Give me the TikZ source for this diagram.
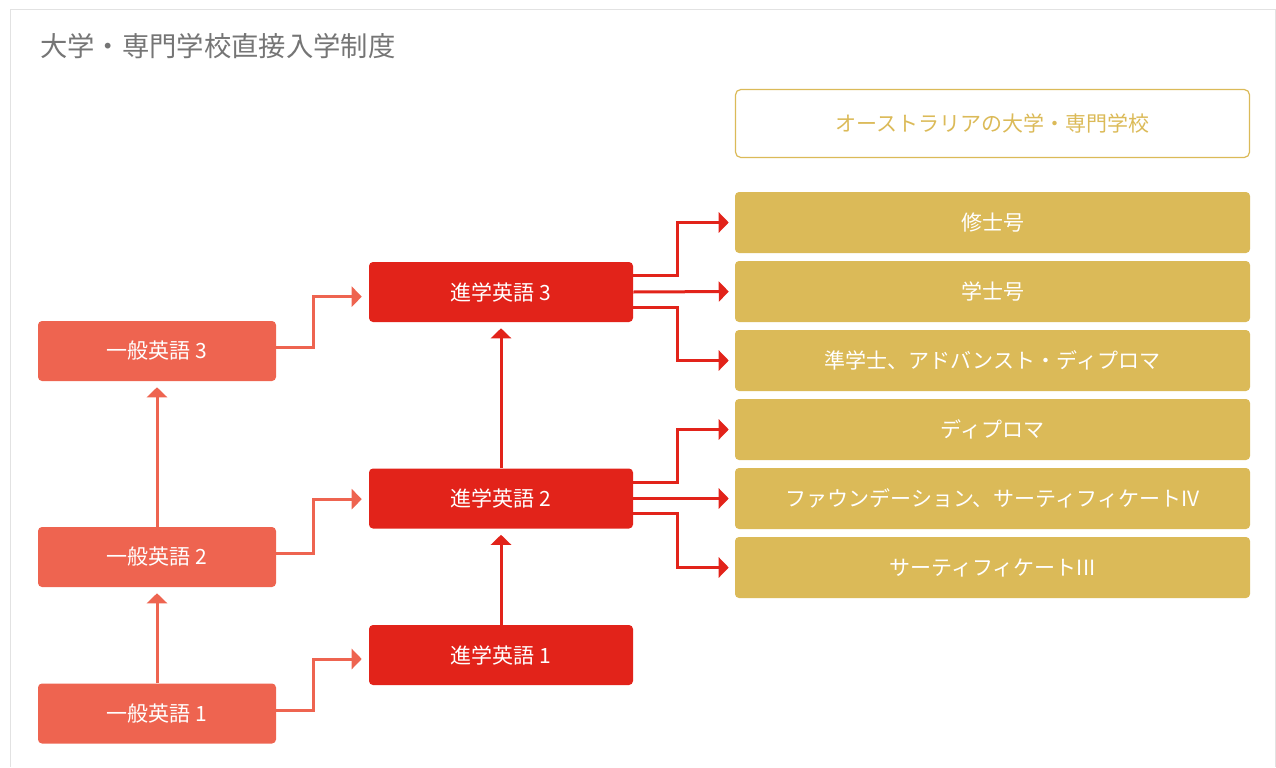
\documentclass[tikz,border=0pt]{standalone}
\usepackage{fontspec}
\setmainfont{Noto Sans CJK JP}
\usetikzlibrary{arrows.meta,positioning}
\definecolor{genred}{HTML}{EE6450}
\definecolor{advred}{HTML}{E2231A}
\definecolor{unigold}{HTML}{DBBA58}
\definecolor{titlegray}{HTML}{757575}
\definecolor{framegray}{HTML}{E2E2E2}
\begin{document}
\begin{tikzpicture}[x=0.75pt,y=-0.75pt,>={Triangle[length=7.5pt,width=15pt]},
		box/.style={rounded corners=3pt,text=white,font=\fontsize{15.75}{18}\selectfont,inner sep=0pt},
		gen/.style={box,fill=genred,minimum width=178.5pt,minimum height=45pt},
		adv/.style={box,fill=advred,minimum width=198pt,minimum height=45pt},
		uni/.style={box,fill=unigold,minimum width=386.25pt,minimum height=45.75pt},
		genline/.style={draw=genred,line width=2.25pt,->},
		advline/.style={draw=advred,line width=2.25pt,->}]
	\useasboundingbox (0,0) rectangle (1276,767);
	\draw[framegray,line width=0.75pt] (10,767)--(10,9.5)--(1275,9.5)--(1275,767);
	\node[anchor=west,inner sep=0pt,text=titlegray,font=\fontsize{20.5}{24}\selectfont] (title) at (40,46) {大学・専門学校直接入学制度};
	\node[draw=unigold,line width=0.9pt,rounded corners=4pt,minimum width=385.5pt,minimum height=51pt,inner sep=0pt,text=unigold,font=\fontsize{15.75}{18}\selectfont] (head) at (992.5,123.5) {オーストラリアの大学・専門学校};
	\node[uni] (u1) at (992.5,222.5) {修士号};
	\node[uni] (u2) at (992.5,291.5) {学士号};
	\node[uni] (u3) at (992.5,360.5) {準学士、アドバンスト・ディプロマ};
	\node[uni] (u4) at (992.5,429.5) {ディプロマ};
	\node[uni] (u5) at (992.5,498.5) {ファウンデーション、サーティフィケートIV};
	\node[uni] (u6) at (992.5,567.5) {サーティフィケートIII};
	\node[adv] (a3) at (501,292) {進学英語 3};
	\node[adv] (a2) at (501,498.5) {進学英語 2};
	\node[adv] (a1) at (501,655) {進学英語 1};
	\node[gen] (g3) at (157,351) {一般英語 3};
	\node[gen] (g2) at (157,557) {一般英語 2};
	\node[gen] (g1) at (157,713.5) {一般英語 1};
	\draw[genline,shorten >=4.5pt] (g1.north)--(g2.south);
	\draw[genline,shorten >=4.5pt] (g2.north)--(g3.south);
	\draw[advline,shorten >=4.5pt] (a1.north)--(a2.south);
	\draw[advline,shorten >=4.5pt] (a2.north)--(a3.south);
	\draw[genline,shorten >=5.25pt] ([yshift=2.5pt]g1.east)--++(37,0)|-([yshift=-3pt]a1.west);
	\draw[genline,shorten >=5.25pt] ([yshift=3pt]g2.east)--++(37,0)|-([yshift=-0.5pt]a2.west);
	\draw[genline,shorten >=5.25pt] ([yshift=2.5pt]g3.east)--++(37,0)|-([yshift=-3.5pt]a3.west);
	\draw[advline,shorten >=4.5pt] ([yshift=12.5pt]a3.east)--++(44,0)|-(u1.west);
	\draw[advline,shorten >=4.5pt] (a3.east)--(u2.west);
	\draw[advline,shorten >=4.5pt] ([yshift=-11.5pt]a3.east)--++(44,0)|-(u3.west);
	\draw[advline,shorten >=4.5pt] ([yshift=12pt]a2.east)--++(44,0)|-(u4.west);
	\draw[advline,shorten >=4.5pt] (a2.east)--(u5.west);
	\draw[advline,shorten >=4.5pt] ([yshift=-11pt]a2.east)--++(44,0)|-(u6.west);
\end{tikzpicture}
\end{document}
